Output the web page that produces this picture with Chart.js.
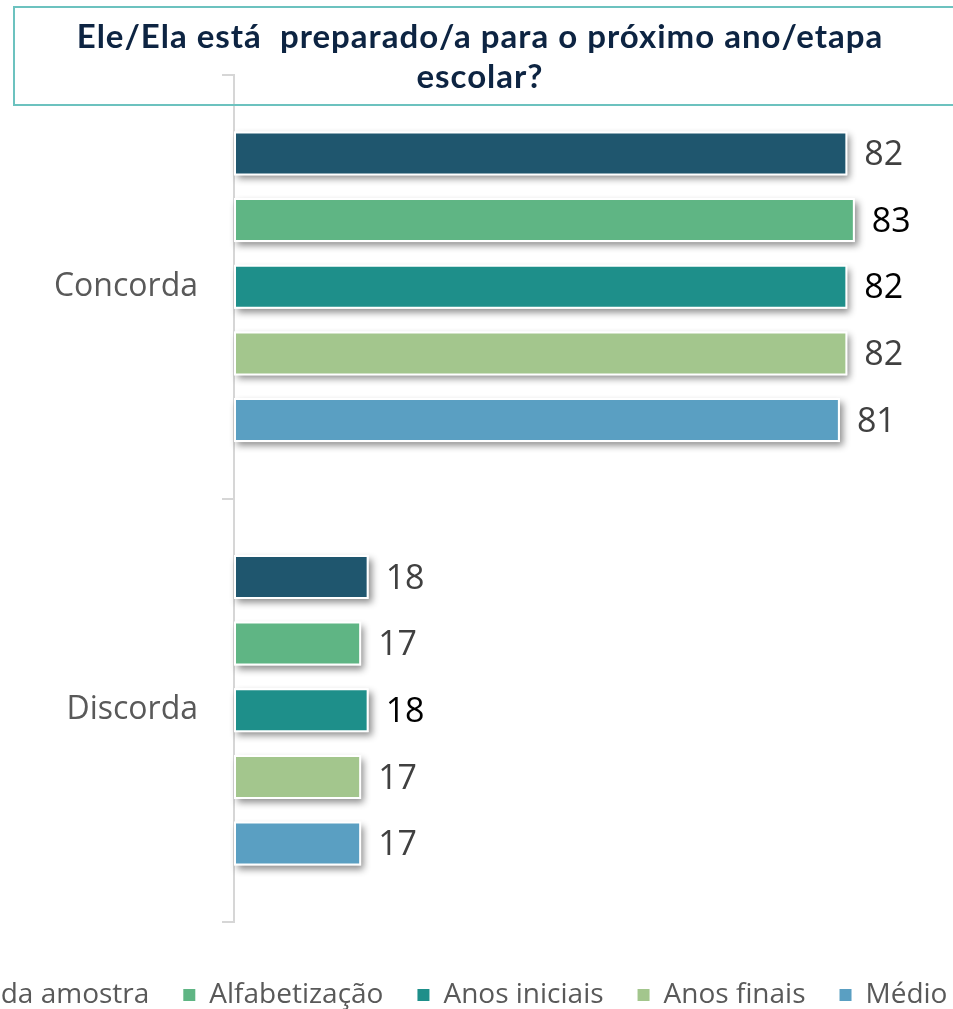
<!DOCTYPE html>
<html lang="pt">
<head>
<meta charset="utf-8">
<title>Ele/Ela está preparado/a para o próximo ano/etapa escolar?</title>
<script src="https://cdn.jsdelivr.net/npm/chart.js@4.4.1/dist/chart.umd.min.js"></script>
<style>
    html, body {
        margin: 0;
        padding: 0;
        background: #ffffff;
        overflow: hidden;
    }
    #page {
        position: relative;
        width: 953px;
        height: 1009px;
        overflow: hidden;
    }
    #chartCanvas {
        position: absolute;
        left: -132px;
        top: 0;
    }
    #titleBox {
        position: absolute;
        left: 13px;
        top: 6px;
        width: 1000px;
        height: 96px;
        border: 2px solid #6cc2bf;
        box-sizing: content-box;
        pointer-events: none;
    }
    #titleText {
        position: absolute;
        left: 30px;
        width: 900px;
        top: 15px;
        text-align: center;
        font-family: Lato, "Open Sans", sans-serif;
        font-weight: 700;
        font-size: 33px;
        letter-spacing: 1px;
        line-height: 40px;
        color: #0d2442;
        white-space: pre;
    }
</style>
</head>
<body>
<div id="page">
    <canvas id="chartCanvas" width="1114" height="1030"></canvas>
    <div id="titleBox"></div>
    <div id="titleText">Ele/Ela está  preparado/a para o próximo ano/etapa
escolar?</div>
</div>

<script>
// Chart data
const categories = ['Concorda', 'Discorda'];
const seriesNames = ['Total da amostra', 'Alfabetização', 'Anos iniciais', 'Anos finais', 'Médio'];

const totalAmostra = [82, 18];
const alfabetizacao = [83, 17];
const anosIniciais = [82, 18];
const anosFinais = [82, 17];
const medio = [81, 17];

// Styles
const seriesColors = ['#1f566e', '#5fb584', '#1e8f8a', '#a3c68d', '#5a9fc2'];
const labelColors = ['#404040', '#000000', '#000000', '#404040', '#404040'];
const discordaLabelColors = ['#404040', '#404040', '#000000', '#404040', '#404040'];

const seriesValues = [totalAmostra, alfabetizacao, anosIniciais, anosFinais, medio];

// White backing with drop shadow behind every bar
const barShadowPlugin = {
    id: 'barShadow',
    beforeDatasetsDraw(chart) {
        const ctx = chart.ctx;
        ctx.save();
        ctx.shadowColor = 'rgba(0, 0, 0, 0.45)';
        ctx.shadowBlur = 7;
        ctx.shadowOffsetX = 3;
        ctx.shadowOffsetY = 4;
        ctx.fillStyle = '#ffffff';
        chart.data.datasets.forEach((ds, i) => {
            chart.getDatasetMeta(i).data.forEach(bar => {
                const p = bar.getProps(['x', 'y', 'base', 'height'], true);
                const left = Math.min(p.base, p.x);
                const w = Math.abs(p.x - p.base);
                ctx.fillRect(left, p.y - p.height / 2, w, p.height);
            });
        });
        ctx.restore();
    }
};

// Value labels at the end of bars
const valueLabelPlugin = {
    id: 'valueLabels',
    afterDatasetsDraw(chart) {
        const ctx = chart.ctx;
        ctx.save();
        ctx.font = '34px "Open Sans", sans-serif';
        ctx.textAlign = 'left';
        ctx.textBaseline = 'middle';
        chart.data.datasets.forEach((ds, i) => {
            chart.getDatasetMeta(i).data.forEach((bar, j) => {
                const p = bar.getProps(['x', 'y'], true);
                ctx.fillStyle = j === 0 ? labelColors[i] : discordaLabelColors[i];
                ctx.fillText(ds.data[j], p.x + 17, p.y + 2);
            });
        });
        ctx.restore();
    }
};

function buildDatasets() {
    return seriesNames.map((name, i) => ({
        label: name,
        data: seriesValues[i],
        backgroundColor: seriesColors[i],
        borderColor: '#ffffff',
        borderWidth: 2,
        borderSkipped: false,
        categoryPercentage: 0.787,
        barPercentage: 0.66
    }));
}

function initChart() {
    const ctx = document.getElementById('chartCanvas').getContext('2d');
    new Chart(ctx, {
        type: 'bar',
        data: {
            labels: categories,
            datasets: buildDatasets()
        },
        options: {
            indexAxis: 'y',
            responsive: false,
            animation: false,
            devicePixelRatio: 1,
            layout: {
                padding: { top: 75, right: 0, bottom: 11, left: 0 }
            },
            scales: {
                x: {
                    min: 0,
                    max: 100,
                    display: true,
                    grid: { display: false },
                    border: { display: false },
                    ticks: { display: false },
                    afterFit: function(scale) {
                        scale.height = 25;
                    }
                },
                y: {
                    grid: {
                        display: true,
                        offset: true,
                        drawOnChartArea: false,
                        drawTicks: true,
                        tickLength: 12,
                        color: '#d6d6d6',
                        lineWidth: 2
                    },
                    border: { display: true, color: '#d6d6d6', width: 2 },
                    ticks: {
                        color: '#595959',
                        padding: 24,
                        font: { family: '"Open Sans", sans-serif', size: 32 }
                    },
                    afterFit: function(scale) {
                        scale.width = 366;
                    }
                }
            },
            plugins: {
                legend: {
                    display: true,
                    position: 'bottom',
                    labels: {
                        boxWidth: 12,
                        boxHeight: 12,
                        padding: 34,
                        color: '#595959',
                        font: { family: '"Open Sans", sans-serif', size: 28 },
                        generateLabels: function(chart) {
                            const items = Chart.defaults.plugins.legend.labels.generateLabels(chart);
                            items.forEach(item => {
                                item.lineWidth = 0;
                                item.strokeStyle = 'rgba(0,0,0,0)';
                            });
                            return items;
                        }
                    }
                },
                tooltip: { enabled: false }
            }
        },
        plugins: [barShadowPlugin, valueLabelPlugin]
    });
}

document.addEventListener('DOMContentLoaded', function() {
    initChart();
});
</script>
</body>
</html>
